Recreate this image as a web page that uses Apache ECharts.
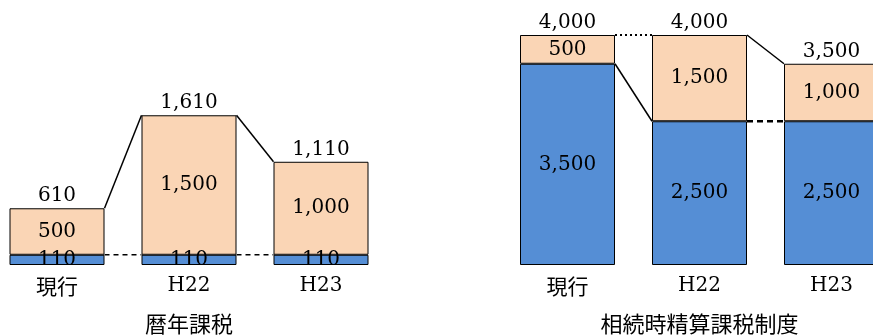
<!DOCTYPE html>
<html>
<head>
<meta charset="utf-8">
<script src="https://cdn.jsdelivr.net/npm/echarts@6/dist/echarts.min.js"></script>
<style>
html, body { margin: 0; padding: 0; background: #fff; }
#c { width: 873px; height: 336px; }
</style>
</head>
<body>
<div id="c"></div>
<script>
// Categories shared by both panels
const categories = ['現行', 'H22', 'H23'];
const panelNames = ['暦年課税', '相続時精算課税制度'];

// 暦年課税: 基礎控除 (blue) + 上乗せ部分 (peach)
const calBase = [110, 110, 110];
const calAdd = [500, 1500, 1000];

// 相続時精算課税制度: 特別控除 (blue) + 上乗せ部分 (peach)
const setBase = [3500, 2500, 2500];
const setAdd = [500, 1500, 1000];

const BLUE = '#558ED5';
const PEACH = '#FAD5B5';
const BAR_W = 95;
const SERIF = '"DejaVu Serif", "Noto Sans CJK JP", serif';
const CJK = '"Noto Sans CJK JP", sans-serif';

const sum = (a, b) => a.map((v, i) => v + b[i]);
const fmt = v => Number(v).toLocaleString('en-US');
const calTot = sum(calBase, calAdd);
const setTot = sum(setBase, setAdd);

// Stacked bars for one panel, plus a label-only series for the totals
function panelSeries(g, base, add) {
  const label = { show: true, position: 'inside', color: '#000', fontFamily: SERIF, fontSize: 20,
                  formatter: p => fmt(p.value) };
  const border = { borderColor: '#000', borderWidth: 1 };
  const stackId = 's' + g;
  return [
    { type: 'bar', xAxisIndex: g, yAxisIndex: g, stack: stackId, barWidth: BAR_W, silent: true,
      data: base, itemStyle: Object.assign({ color: BLUE }, border), label },
    { type: 'bar', xAxisIndex: g, yAxisIndex: g, stack: stackId, barWidth: BAR_W, silent: true,
      data: add, itemStyle: Object.assign({ color: PEACH }, border), label },
    // zero-height cap on top of each stack carrying the total label
    { type: 'bar', xAxisIndex: g, yAxisIndex: g, stack: stackId, barWidth: BAR_W, silent: true,
      data: sum(base, add).map(t => ({ value: 0, total: t })),
      itemStyle: { color: 'transparent', borderWidth: 0 },
      label: { show: true, position: 'top', distance: 2, color: '#000', fontFamily: SERIF, fontSize: 20,
               formatter: p => fmt(p.data.total) } }
  ];
}

// Lines joining the edge of one bar to the edge of the next
function connector(g, links, style) {
  return {
    type: 'custom', xAxisIndex: g, yAxisIndex: g, silent: true, z: 5, clip: false,
    data: links,
    renderItem(params, api) {
      const p0 = api.coord([api.value(0), api.value(1)]);
      const p1 = api.coord([api.value(2), api.value(3)]);
      return {
        type: 'line',
        shape: { x1: p0[0] + BAR_W / 2, y1: p0[1], x2: p1[0] - BAR_W / 2, y2: p1[1] },
        style: Object.assign({ stroke: '#000', fill: null }, style)
      };
    }
  };
}
const link = (arr, i) => [i, arr[i], i + 1, arr[i + 1]];

function xAxis(g, name) {
  return {
    gridIndex: g, type: 'category', data: categories,
    axisLine: { show: false }, axisTick: { show: false },
    axisLabel: {
      margin: 11, color: '#000', fontFamily: SERIF, fontSize: 20,
      formatter: v => /^[\x00-\x7f]+$/.test(v) ? v : '{j|' + v + '}',
      rich: { j: { fontFamily: CJK, fontSize: 21, color: '#000' } }
    },
    name, nameLocation: 'middle', nameGap: 48,
    nameTextStyle: { fontFamily: CJK, fontSize: 22, color: '#000' }
  };
}

const chart = echarts.init(document.getElementById('c'), null, { renderer: 'canvas' });
chart.setOption({
  animation: false,
  backgroundColor: '#fff',
  grid: [
    { left: -9, width: 396, bottom: 71, height: 186, containLabel: false, outerBoundsMode: 'none' },
    { left: 501.5, width: 396, bottom: 71, height: 230, containLabel: false, outerBoundsMode: 'none' }
  ],
  xAxis: [xAxis(0, panelNames[0]), xAxis(1, panelNames[1])],
  yAxis: [
    { gridIndex: 0, type: 'value', min: 0, max: 2000, show: false },
    { gridIndex: 1, type: 'value', min: 0, max: 4000, show: false }
  ],
  series: [
    ...panelSeries(0, calBase, calAdd),
    ...panelSeries(1, setBase, setAdd),
    connector(0, [link(calTot, 0), link(calTot, 1)], { lineWidth: 1.5 }),
    connector(0, [link(calBase, 0), link(calBase, 1)], { lineWidth: 1.5, lineDash: [5, 4] }),
    connector(1, [link(setTot, 0)], { lineWidth: 2, lineDash: [2, 3] }),
    connector(1, [link(setBase, 0), link(setTot, 1)], { lineWidth: 1.5 }),
    connector(1, [link(setBase, 1)], { lineWidth: 2.5, lineDash: [6, 4] })
  ]
});
</script>
</body>
</html>
